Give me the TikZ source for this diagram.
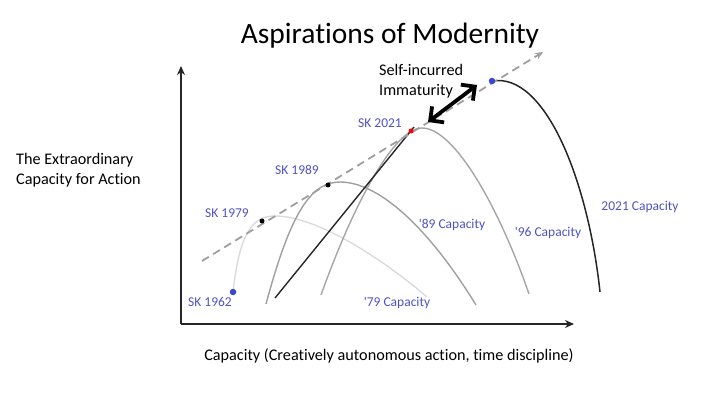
\documentclass[tikz,border=0pt]{standalone}
\usepackage{fontspec}
\setmainfont{Carlito}[Ligatures=NoCommon]
\usetikzlibrary{arrows.meta}
\definecolor{lblue}{HTML}{4F52C6}
\definecolor{dblue}{HTML}{3A47D0}
\begin{document}
\begin{tikzpicture}[x=1pt,y=-1pt,
  lbl/.style={text=lblue,font=\fontsize{13.5}{15}\selectfont,inner sep=0pt},
  blk/.style={text=black,font=\fontsize{16.2}{19.5}\selectfont,inner sep=0pt},
  dotm/.style={circle,inner sep=0pt,minimum size=5pt},
  axis/.style={line width=1.8pt,draw=black!85,-{Stealth[length=9pt,width=8pt]}}]
\useasboundingbox (0,0) rectangle (714,395);
\node[font=\fontsize{29.5}{34}\selectfont,inner sep=0pt] (title) at (390,36) {Aspirations of Modernity};
% axes
\coordinate (o) at (181,324);
\coordinate (ytop) at (181,66);
\coordinate (xend) at (574,324);
\draw[axis] (o) -- (ytop);
\draw[axis] (o) -- (xend);
\node[blk,align=left,anchor=west] (ylab) at (16,170) {The Extraordinary\\Capacity for Action};
\node[blk] (xlab) at (389,356) {Capacity (Creatively autonomous action, time discipline)};
% curves
\draw[gray!30,line width=1.3pt] (233,292) .. controls (240,228) and (255,216) .. (275,216) .. controls (320,216) and (390,265) .. (427,297);
\draw[gray!75,line width=1.4pt] (266,304) .. controls (290,215) and (310,182) .. (340,182) .. controls (380,182) and (430,230) .. (476,305);
\draw[gray!70,line width=1.4pt] (321,295) .. controls (355,200) and (395,128) .. (422,128) .. controls (455,128) and (500,210) .. (529,294);
\draw[black!85,line width=1.4pt] (275,298) -- (414,127);
\draw[black!85,line width=1.5pt] (492,81) .. controls (545,72) and (588,180) .. (600,292);
% dashed trend
\coordinate (ds) at (202,261);
\coordinate (de) at (543,52);
\draw[gray!75,line width=1.8pt,dash pattern=on 8pt off 5pt,-{Stealth[length=8pt,width=7pt]}] (ds) -- (de);
% dots
\node[dotm,fill=dblue,minimum size=6.5pt] (p62) at (233,292) {};
\node[dotm,fill=black] (p79) at (262,221) {};
\node[dotm,fill=black] (p89) at (328,185) {};
\node[dotm,fill=red] (p21) at (411,131) {};
\node[dotm,fill=dblue,minimum size=6.5pt] (p21b) at (492,81) {};
% double arrow
\draw[line width=3.8pt,{Straight Barb[length=10pt,width=20pt]}-{Straight Barb[length=10pt,width=20pt]}] (p21) ++(17,-9) coordinate (a1) (a1) -- (477,85) coordinate (a2);
\node[blk,align=left,anchor=west] (self) at (379,81) {Self-incurred\\Immaturity};
% labels
\node[lbl] (l62) at (210,302) {SK 1962};
\node[lbl] (l79) at (227,213) {SK 1979};
\node[lbl] (l89) at (297,170) {SK 1989};
\node[lbl] (l21) at (380,123) {SK 2021};
\node[lbl] (c79) at (397,303) {\textquotesingle 79 Capacity};
\node[lbl] (c89) at (452,225) {\textquotesingle 89 Capacity};
\node[lbl] (c96) at (548,233) {\textquotesingle 96 Capacity};
\node[lbl] (c21) at (640,207) {2021 Capacity};
\end{tikzpicture}
\end{document}
